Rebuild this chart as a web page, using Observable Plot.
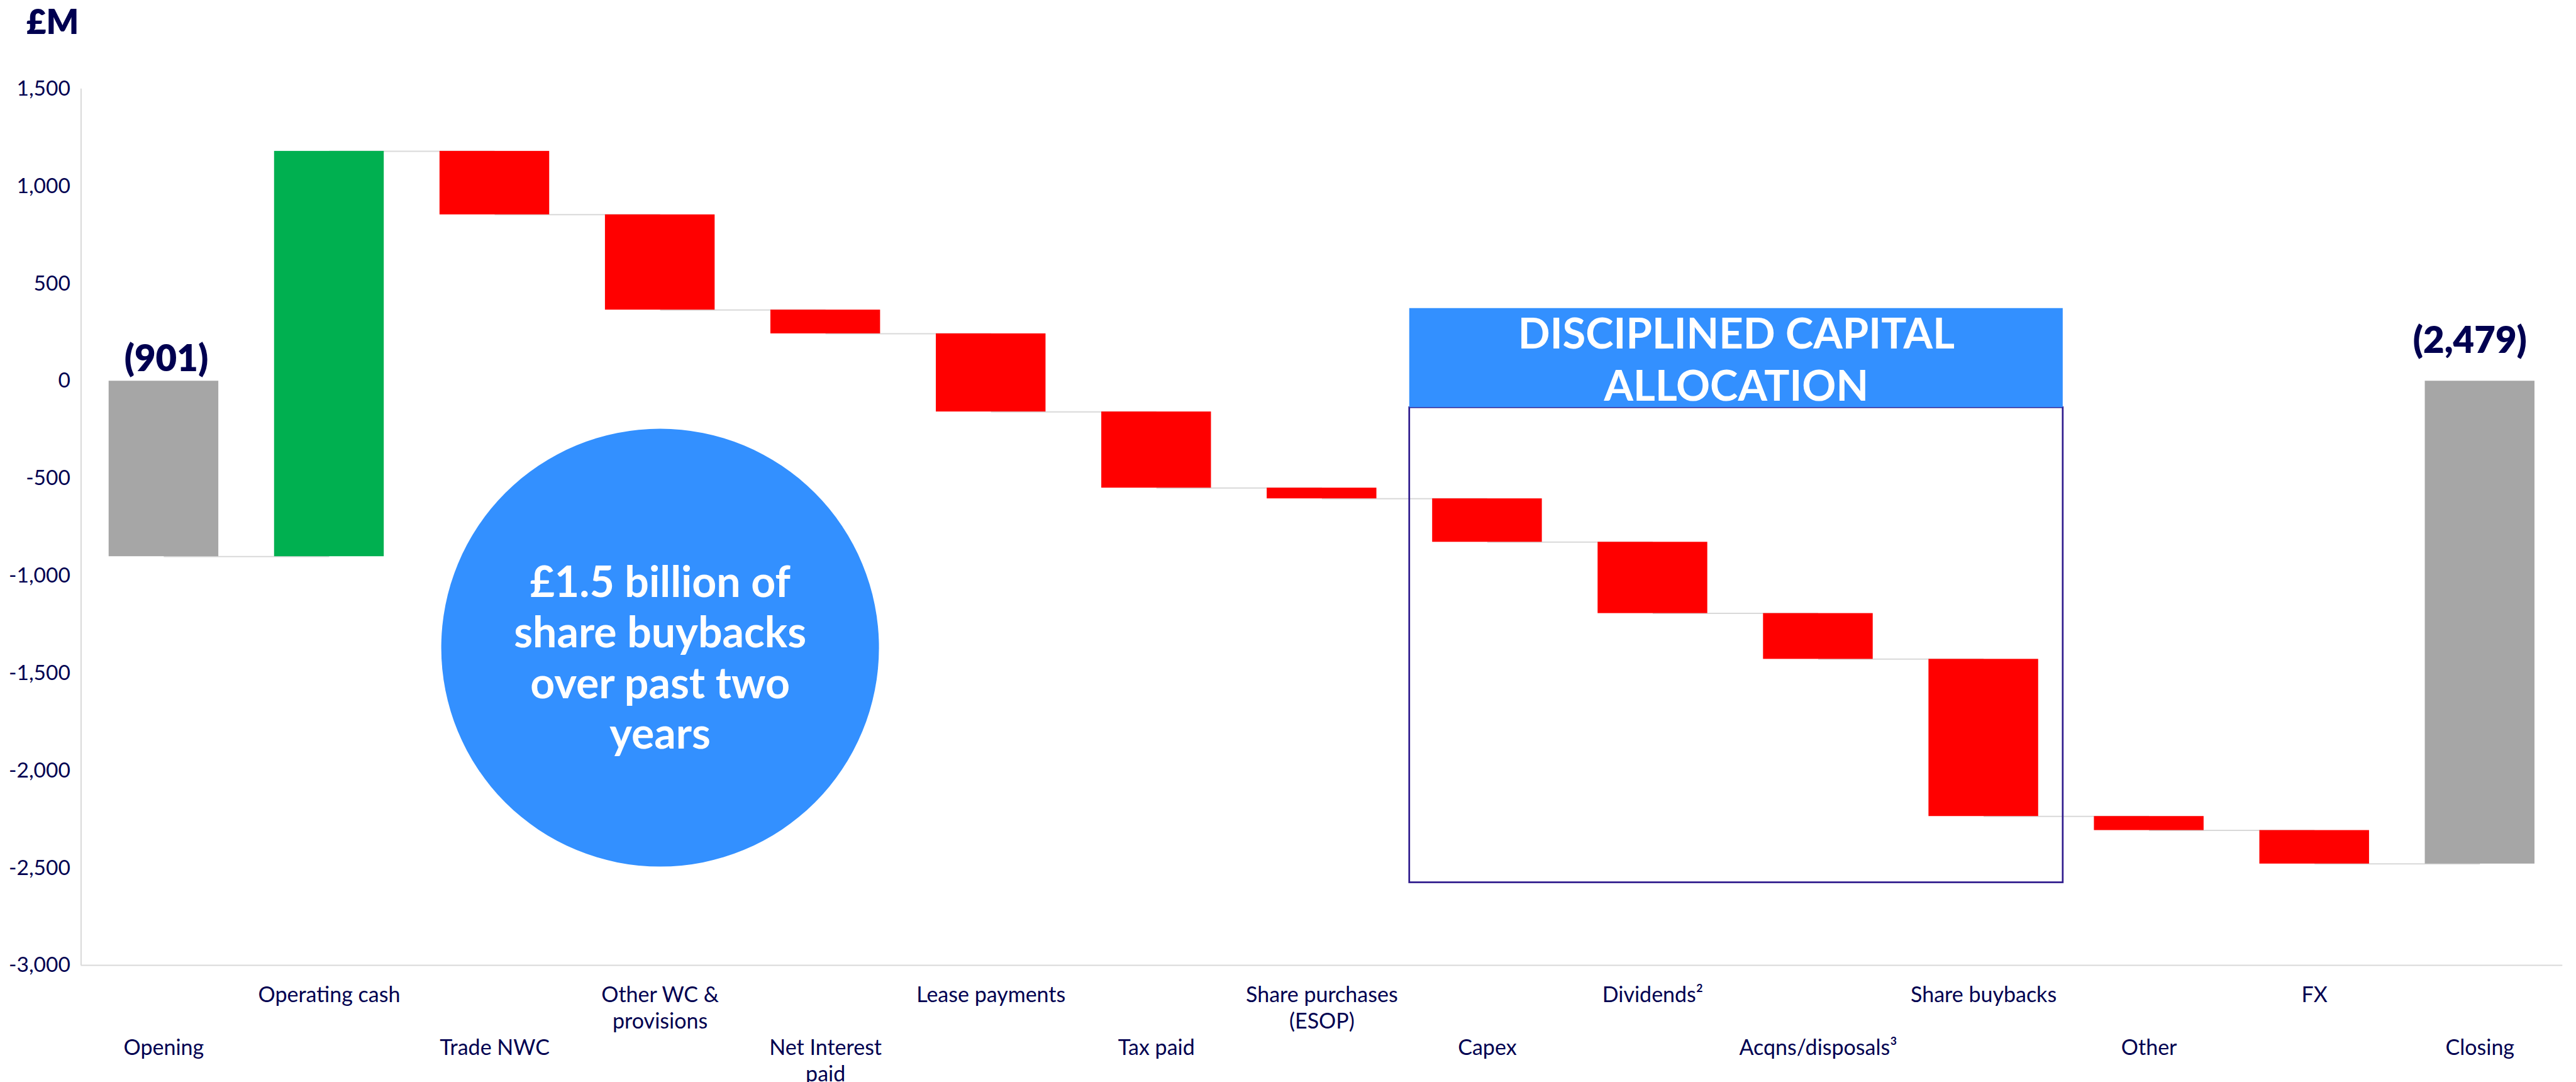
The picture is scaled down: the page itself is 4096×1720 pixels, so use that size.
<!DOCTYPE html>
<html>
<head>
<meta charset="utf-8">
<script src="https://cdn.jsdelivr.net/npm/d3@7"></script>
<script src="https://cdn.jsdelivr.net/npm/@observablehq/plot@0.6"></script>
<style>
html, body { margin: 0; padding: 0; background: #ffffff; }
#chart svg { display: block; }
</style>
</head>
<body>
<div id="chart"></div>
<script>
// ---- data (£M) ----
const categories = [
  "Opening", "Operating cash", "Trade NWC", "Other WC &\nprovisions", "Net Interest\npaid",
  "Lease payments", "Tax paid", "Share purchases\n(ESOP)", "Capex", "Dividends²",
  "Acqns/disposals³", "Share buybacks", "Other", "FX", "Closing"
];
const values = [-901, 2081, -326, -489, -122, -401, -391, -55, -223, -366, -235, -807, -72, -172, -2479];
const kinds = ["total", "change", "change", "change", "change", "change", "change", "change",
               "change", "change", "change", "change", "change", "change", "total"];
const totalLabels = ["(901)", "(2,479)"];
const yTicks = [-3000, -2500, -2000, -1500, -1000, -500, 0, 500, 1000, 1500];
const unitLabel = "£M";
const calloutLines = ["£1.5 billion of", "share buybacks", "over past two", "years"];
const calloutAt = [3, -1369];           // category index, £M
const boxTitle = ["DISCIPLINED CAPITAL", "ALLOCATION"];
const boxX = [7.53, 11.48];             // category-index span of the highlight box
const boxY = [373, -136, -2575];        // header top, header bottom, box bottom (£M)

// ---- derived table ----
let level = 0;
const bars = categories.map((c, i) => {
  let y1, y2;
  if (kinds[i] === "total") { y1 = 0; y2 = values[i]; }
  else { y1 = level; y2 = level + values[i]; }
  level = y2;
  return {i, c, y1, y2, kind: kinds[i], v: values[i]};
});
const connectors = bars.slice(0, -1).map((b, i) => ({x1: i, x2: i + 1, y: b.y2}));
const totals = bars.filter(d => d.kind === "total").map((d, k) => ({...d, label: totalLabels[k]}));

const NAVY = "#000050";
const GRID = "#d9d9d9";
const hw = 0.3315;
const fillOf = d => d.kind === "total" ? "#a6a6a6" : (d.v >= 0 ? "#00b050" : "#ff0000");
const fmt = d => (d < 0 ? "-" : "") + d3.format(",")(Math.abs(d));
const totalTop = d => Math.max(d.y1, d.y2);

const plot = Plot.plot({
  width: 4096,
  height: 1720,
  marginLeft: 128.4,
  marginRight: 21.7,
  marginTop: 140.8,
  marginBottom: 185.9,
  style: {fontFamily: "Lato, 'Noto Sans', sans-serif", background: "#ffffff", color: NAVY, overflow: "visible"},
  x: {type: "linear", domain: [-0.5, 14.5], axis: null},
  y: {domain: [-3000, 1500], axis: null},
  marks: [
    Plot.ruleX([-0.5], {y1: -3000, y2: 1500, stroke: GRID, strokeWidth: 2}),
    Plot.ruleY([-3000], {x1: -0.5, x2: 14.5, stroke: GRID, strokeWidth: 2}),
    Plot.axisY({ticks: yTicks, tickFormat: fmt, tickSize: 0, tickPadding: 17, fontSize: 33.5, fill: NAVY, label: null}),
    Plot.link(connectors, {x1: "x1", x2: "x2", y1: "y", y2: "y", stroke: GRID, strokeWidth: 2}),
    Plot.rectY(bars, {x1: d => d.i - hw, x2: d => d.i + hw, y1: "y1", y2: "y2", fill: fillOf}),
    Plot.dot([calloutAt], {x: d => d[0], y: d => d[1], r: 348, fill: "#3390ff", stroke: null}),
    Plot.text([calloutLines.join("\n")], {x: calloutAt[0], y: calloutAt[1], text: d => d, lineAnchor: "bottom", dy: 160.7,
      lineHeight: 1.184, fontSize: 68, fontWeight: 700, fill: "#ffffff"}),
    Plot.rect([{x1: boxX[0], x2: boxX[1], y1: boxY[1], y2: boxY[2]}], {x1: "x1", x2: "x2", y1: "y1", y2: "y2",
      fill: "none", stroke: "#2e1a8c", strokeWidth: 2.7}),
    Plot.rect([{x1: boxX[0], x2: boxX[1], y1: boxY[0], y2: boxY[1]}], {x1: "x1", x2: "x2", y1: "y1", y2: "y2", fill: "#3390ff"}),
    Plot.text([boxTitle.join("\n")], {x: (boxX[0] + boxX[1]) / 2, y: boxY[1], text: d => d, lineAnchor: "bottom", dy: -10.6,
      lineHeight: 1.24, fontSize: 67, fontWeight: 700, fill: "#ffffff"}),
    Plot.text(totals.slice(0, 1), {x: "i", y: totalTop, text: "label", lineAnchor: "bottom",
      dy: -15.8, dx: 4, fontSize: 58, fontWeight: 800, fill: NAVY}),
    Plot.text(totals.slice(1), {x: "i", y: totalTop, text: "label", lineAnchor: "bottom",
      dy: -44.7, dx: -16, fontSize: 58, fontWeight: 800, fill: NAVY}),
    Plot.text(bars.filter(d => d.i % 2 === 1), {x: "i", frameAnchor: "bottom", text: "c", lineAnchor: "top", dy: 28,
      lineHeight: 1.25, fontSize: 34, fill: NAVY}),
    Plot.text(bars.filter(d => d.i % 2 === 0), {x: "i", frameAnchor: "bottom", text: "c", lineAnchor: "top", dy: 112,
      lineHeight: 1.25, fontSize: 34, fill: NAVY}),
    Plot.text([unitLabel], {frameAnchor: "top-left", text: d => d, textAnchor: "start", lineAnchor: "bottom",
      dx: -86.8, dy: -87.8, fontSize: 54, fontWeight: 800, fill: NAVY})
  ]
});
document.getElementById("chart").appendChild(plot);
</script>
</body>
</html>
